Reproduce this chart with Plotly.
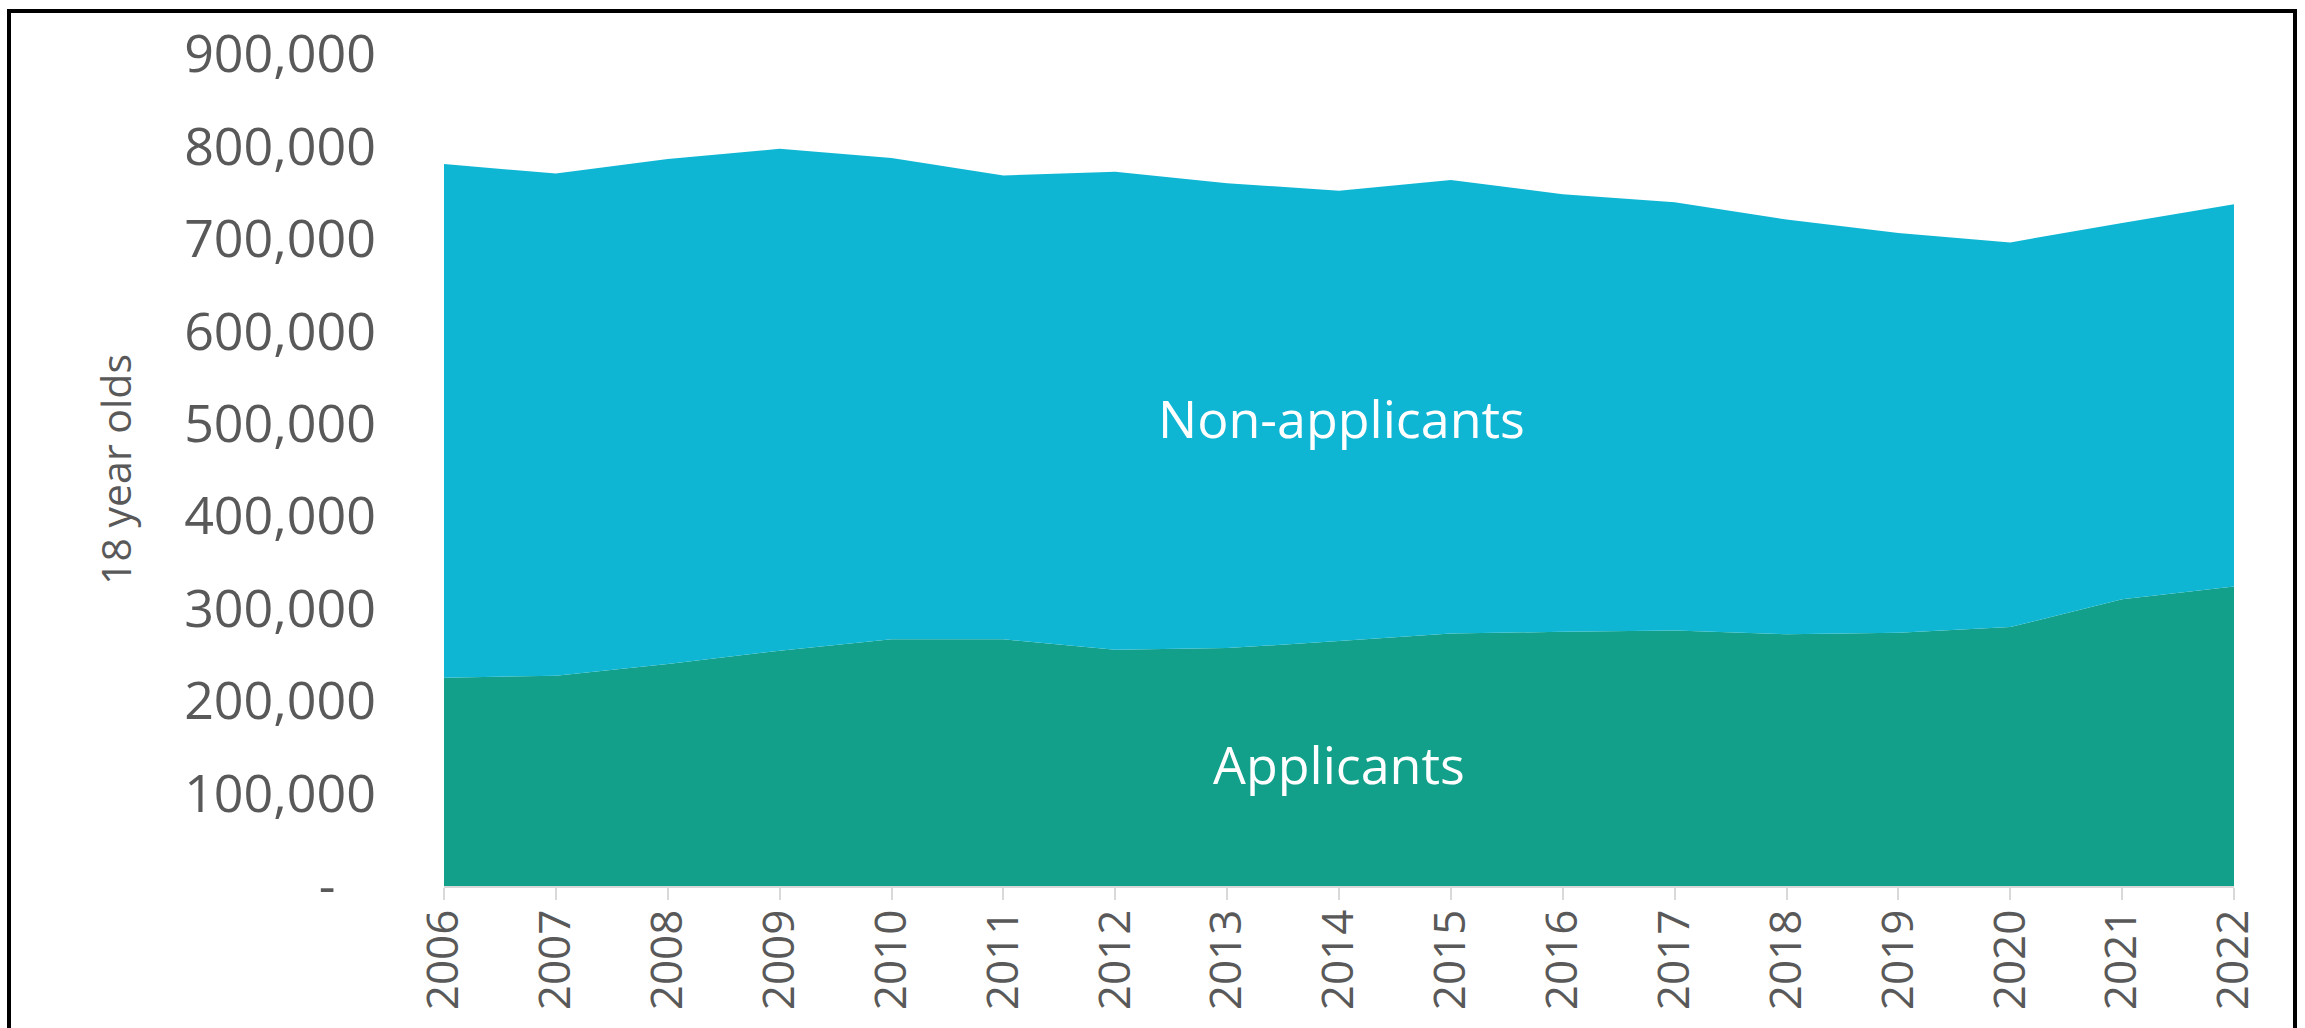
import plotly.graph_objects as go

years = list(range(2006, 2023))
total_18 = [780900, 770600, 786300, 797500, 787600, 768500, 772700, 760300, 752000,
            763600, 748300, 739600, 721000, 706500, 696200, 717300, 737500]
applicants = [225400, 227500, 240100, 254500, 266900, 266900, 255600, 257400, 264900,
              273100, 275000, 276500, 272300, 273900, 280100, 310300, 324000]
non_applicants = [t - a for t, a in zip(total_18, applicants)]
ytick_vals = [0, 100000, 200000, 300000, 400000, 500000, 600000, 700000, 800000, 900000]
ytick_text = ["-\u00a0\u00a0\u00a0"] + [f"{v:,}" for v in ytick_vals[1:]]

W, H = 2305, 1028
ML, MR, MT, MB = 444, 71, 54, 142
pw, ph = W - ML - MR, H - MT - MB

def px_x(px):
    return (px - ML) / pw

def px_y(py):
    return (H - MB - py) / ph

fig = go.Figure()
fig.add_trace(go.Scatter(x=years, y=applicants, name="Applicants", stackgroup="one",
                         mode="lines", line=dict(width=0, color="#12A08A"),
                         fillcolor="#12A08A"))
fig.add_trace(go.Scatter(x=years, y=non_applicants, name="Non-applicants", stackgroup="one",
                         mode="lines", line=dict(width=0, color="#0FB6D4"),
                         fillcolor="#0FB6D4"))

fig.add_annotation(x=2014.02, y=507000, text="Non-applicants", showarrow=False,
                   font=dict(family="Open Sans", size=52, color="white"))
fig.add_annotation(x=2014.0, y=132000, text="Applicants", showarrow=False,
                   font=dict(family="Open Sans", size=52, color="white"))

# y-axis title as rotated annotation
fig.add_annotation(xref="paper", yref="paper", x=px_x(115), y=px_y(470),
                   xanchor="center", yanchor="middle",
                   text="18 year olds", textangle=-90, showarrow=False,
                   font=dict(family="Liberation Sans Narrow, Open Sans", size=41,
                             color="#595959"))

fig.add_shape(type="rect", xref="paper", yref="paper",
              x0=px_x(9), x1=px_x(2295), y0=px_y(1060), y1=px_y(11),
              line=dict(color="black", width=4), fillcolor="rgba(0,0,0,0)", layer="above")

fig.update_layout(
    width=W, height=H,
    margin=dict(l=ML, r=MR, t=MT, b=MB),
    paper_bgcolor="white", plot_bgcolor="white",
    showlegend=False,
    xaxis=dict(range=[2006, 2022], tickmode="array", tickvals=years,
               ticktext=[str(y) for y in years], tickangle=-90, automargin=False,
               tickfont=dict(family="Open Sans", size=44, color="#595959"),
               showgrid=False, zeroline=False, showline=True, linecolor="#D9D9D9",
               linewidth=2, ticks="outside", ticklen=12, tickcolor="#D9D9D9", tickwidth=2,
               ticklabelstandoff=-8),
    yaxis=dict(range=[0, 900000], tickmode="array", tickvals=ytick_vals, ticktext=ytick_text,
               automargin=False,
               tickfont=dict(family="Open Sans", size=52, color="#595959"),
               showgrid=False, zeroline=False, showline=False, ticks="",
               ticklabelstandoff=67),
)

fig.write_html("out.html", config={"displayModeBar": False},
               post_script="document.body.style.margin='0';document.body.style.overflow='hidden';")
